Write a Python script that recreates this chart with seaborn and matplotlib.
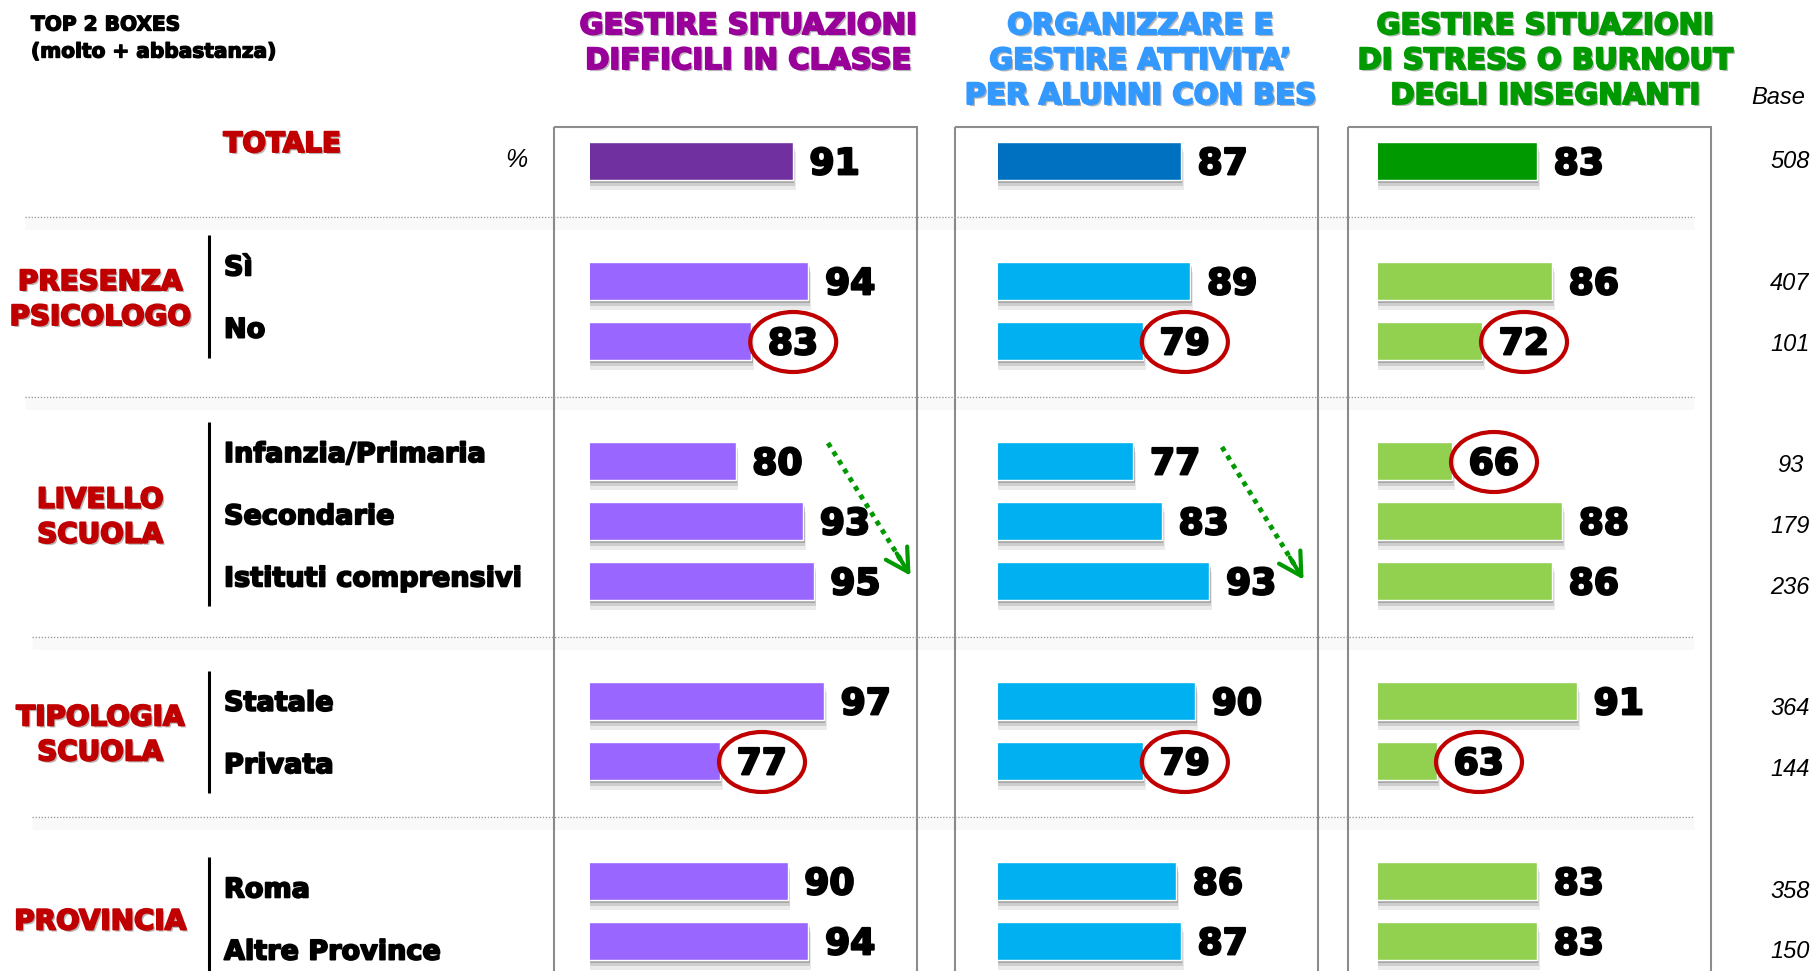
import matplotlib
matplotlib.use("Agg")
import matplotlib.pyplot as plt
import matplotlib.patheffects as pe
from matplotlib.patches import Ellipse, Rectangle
from matplotlib.transforms import ScaledTranslation
import pandas as pd
import seaborn as sns

# --- data ---
gruppi = ["TOTALE", "PRESENZA\nPSICOLOGO", "LIVELLO\nSCUOLA", "TIPOLOGIA\nSCUOLA", "PROVINCIA"]
righe = ["Totale", "Sì", "No", "Infanzia/Primaria", "Secondarie", "Istituti comprensivi",
         "Statale", "Privata", "Roma", "Altre Province"]
gruppo_di_riga = [0, 1, 1, 2, 2, 2, 3, 3, 4, 4]
titoli = [
    ["GESTIRE SITUAZIONI", "DIFFICILI IN CLASSE"],
    ["ORGANIZZARE E", "GESTIRE ATTIVITA’", "PER ALUNNI CON BES"],
    ["GESTIRE SITUAZIONI", "DI STRESS O BURNOUT", "DEGLI INSEGNANTI"],
]
situazioni_difficili = [91, 94, 83, 80, 93, 95, 97, 77, 90, 94]
attivita_bes = [87, 89, 79, 77, 83, 93, 90, 79, 86, 87]
stress_burnout = [83, 86, 72, 66, 88, 86, 91, 63, 83, 83]
base = [508, 407, 101, 93, 179, 236, 364, 144, 358, 150]
# rows whose value is circled in red, per column
cerchiati = [[2, 7], [2, 7], [2, 3, 7]]

sns.set_theme(style="white")
plt.rcParams["font.family"] = ["DejaVu Sans"]
plt.rcParams["text.color"] = "black"

W, H = 1817, 971
fig = plt.figure(figsize=(W / 100, H / 100), dpi=100)

# --- layout (pixels, y from the top) ---
slot = [i + g for i, g in enumerate(gruppo_di_riga)]   # one empty slot between groups
BAR_Y0, BAR_STEP = 161, 60


def bar_px(s):
    return BAR_Y0 + BAR_STEP * s


def label_px(s):
    return 141 + 62.2 * s


def base_px(s):
    return 162 + 60.75 * s


def heavy(color, width=1.3, shadow=False):
    # thicken DejaVu bold so it reads closer to a black-weight font
    fx = []
    if shadow:
        fx.append(pe.SimplePatchShadow(offset=(1.5, -1.5), shadow_rgbFace="#888888", alpha=0.6))
    fx += [pe.Stroke(linewidth=width, foreground=color), pe.Normal()]
    return fx


colonne = [
    dict(valori=situazioni_difficili, scuro="#7030A0", chiaro="#9966FF", testo="#990099",
         box=(554, 917), bar_left=590, x0=52.0, scala=5.2, titolo_x=748,
         freccia=((828, 443), (912, 578))),
    dict(valori=attivita_bes, scuro="#0070C0", chiaro="#00B0F0", testo="#3399FF",
         box=(955, 1318), bar_left=998, x0=48.5, scala=4.75, titolo_x=1140,
         freccia=((1222, 447), (1305, 582))),
    dict(valori=stress_burnout, scuro="#009900", chiaro="#92D050", testo="#009900",
         box=(1348, 1711), bar_left=1378, x0=51.2, scala=5.0, titolo_x=1545,
         freccia=None),
]

tipo = ["totale" if g == 0 else "gruppo" for g in gruppo_di_riga]
bar_shadow = [pe.SimplePatchShadow(offset=(2, -7), shadow_rgbFace="#000000", alpha=0.08),
              pe.SimplePatchShadow(offset=(1.5, -4.5), shadow_rgbFace="#000000", alpha=0.12),
              pe.SimplePatchShadow(offset=(1, -2.5), shadow_rgbFace="#000000", alpha=0.18),
              pe.Normal()]

for k, col in enumerate(colonne):
    left, right = col["bar_left"], col["box"][1]
    ax = fig.add_axes([left / W, 0, (right - left) / W, 1])
    df = pd.DataFrame({"valore": col["valori"], "slot": slot, "tipo": tipo})
    sns.barplot(data=df, x="valore", y="slot", hue="tipo",
                palette={"totale": col["scuro"], "gruppo": col["chiaro"]},
                orient="h", native_scale=True, width=0.63, saturation=1,
                legend=False, ax=ax)
    ax.set_xlim(col["x0"], col["x0"] + (right - left) / col["scala"])
    ax.set_ylim((H - BAR_Y0) / BAR_STEP, -BAR_Y0 / BAR_STEP)
    ax.axis("off")
    for p in ax.patches:
        p.set_path_effects(bar_shadow)

    for i, (v, s) in enumerate(zip(col["valori"], slot)):
        ax.annotate(f"{v}", xy=(v, s), xytext=(12, -9.6), textcoords="offset points",
                    ha="left", va="baseline", fontsize=26, fontweight="bold",
                    color="black", annotation_clip=False, path_effects=heavy("black", 1.6))
        if i in cerchiati[k]:
            tr = fig.dpi_scale_trans + ScaledTranslation(v, s, ax.transData)
            ax.add_patch(Ellipse((0.42, -0.01), 0.86, 0.60, transform=tr, fill=False,
                                 edgecolor="#C00000", lw=3, clip_on=False, zorder=5))

# --- overlay for frames, labels and annotations (pixel coordinates) ---
ov = fig.add_axes([0, 0, 1, 1])
ov.set_xlim(0, W)
ov.set_ylim(H, 0)
ov.axis("off")

ov.text(31, 25, "TOP 2 BOXES", fontsize=14.5, fontweight="bold", va="center", ha="left",
        path_effects=heavy("black", 1.0))
ov.text(31, 52, "(molto + abbastanza)", fontsize=14.5, fontweight="bold", va="center",
        ha="left", path_effects=heavy("black", 1.0))

for col, righe_titolo in zip(colonne, titoli):
    for j, t in enumerate(righe_titolo):
        ov.text(col["titolo_x"], 26 + 35 * j, t, fontsize=21, fontweight="bold",
                color=col["testo"], ha="center", va="center",
                path_effects=heavy(col["testo"], 1.4, shadow=True))
    x0, x1 = col["box"]
    ov.add_patch(Rectangle((x0, 127), x1 - x0, 900, fill=False, edgecolor="#8c8c8c", lw=1.5))
    if col["freccia"] is not None:
        (sx, sy), (ex, ey) = col["freccia"]
        f = 0.88
        ov.plot([sx, sx + f * (ex - sx)], [sy, sy + f * (ey - sy)], color="#009900",
                lw=3.5, ls=(0, (1, 1.1)))
        ov.annotate("", xy=(ex, ey), xytext=(sx + 0.8 * (ex - sx), sy + 0.8 * (ey - sy)),
                    arrowprops=dict(arrowstyle="->,head_length=0.8,head_width=0.45",
                                    color="#009900", lw=3, mutation_scale=20))

ov.text(1778, 98, "Base", fontsize=17, style="italic", family="Liberation Sans",
        ha="center", va="center")
ov.text(516, 160, "%", fontsize=18, style="italic", family="Liberation Sans",
        ha="center", va="center")

# group labels, row labels, bracket lines
for g, nome in enumerate(gruppi):
    s_g = [s for s, gg in zip(slot, gruppo_di_riga) if gg == g]
    yc = label_px(sum(s_g) / len(s_g))
    linee = nome.split("\n")
    xc = 282 if g == 0 else 100
    for j, t in enumerate(linee):
        ov.text(xc, yc + 3 + 35 * (j - (len(linee) - 1) / 2), t, fontsize=20,
                fontweight="bold", color="#C00000", ha="center", va="center",
                path_effects=heavy("#C00000", 1.4, shadow=True))
    if g > 0:
        ov.plot([209, 209], [label_px(s_g[0]) - 30, label_px(s_g[-1]) + 30],
                color="black", lw=2.2, solid_capstyle="butt")

for r, s, g in zip(righe, slot, gruppo_di_riga):
    if g > 0:
        ov.text(224, label_px(s) + 3, r, fontsize=19.5, fontweight="bold",
                ha="left", va="center", path_effects=heavy("black", 1.3))

for b, s in zip(base, slot):
    ov.text(1790, base_px(s), f"{b}", fontsize=17, style="italic",
            family="Liberation Sans", ha="center", va="center")

# dotted separators between groups
sep_x0 = [25, 25, 32, 32]
for g in range(1, len(gruppi)):
    prev_last = max(s for s, gg in zip(slot, gruppo_di_riga) if gg == g - 1)
    y = bar_px(prev_last + 1) - 4
    ov.plot([sep_x0[g - 1], 1694], [y + 7, y + 7], color="black", lw=8, alpha=0.025,
            solid_capstyle="butt")
    ov.plot([sep_x0[g - 1], 1694], [y, y], color="#9a9a9a", lw=1, ls=(0, (1, 1.2)))

fig.savefig("out.png", dpi=100)
